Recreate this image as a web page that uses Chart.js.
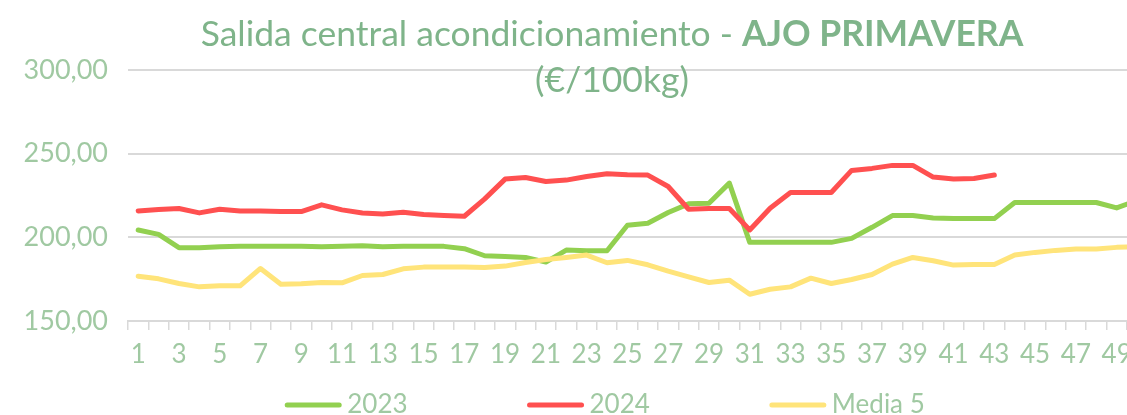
<!DOCTYPE html>
<html lang="es">
<head>
<meta charset="utf-8">
<title>Salida central acondicionamiento - AJO PRIMAVERA</title>
<script src="https://cdn.jsdelivr.net/npm/chart.js@4.4.1/dist/chart.umd.min.js"></script>
<style>
  html, body { margin: 0; padding: 0; background: #ffffff; overflow: hidden; width: 1127px; height: 415px; }
  #marco { position: relative; width: 1224px; height: 440px; }
  canvas { display: block; }
</style>
</head>
<body>
<div id="marco"><canvas id="grafico" width="1224" height="440"></canvas></div>
<script>
// Semanas del año
const semanas = ['1','2','3','4','5','6','7','8','9','10','11','12','13','14','15','16','17','18','19','20',
  '21','22','23','24','25','26','27','28','29','30','31','32','33','34','35','36','37','38','39','40',
  '41','42','43','44','45','46','47','48','49','50','51','52'];

// Precios semanales (€/100kg)
const precios2023 = [204.4, 201.8, 193.8, 193.8, 194.4, 194.6, 194.6, 194.6, 194.6, 194.4,
  194.6, 195.0, 194.4, 194.6, 194.6, 194.6, 193.2, 189.0, 188.6, 188.0,
  185.2, 192.4, 192.0, 192.0, 207.2, 208.4, 214.8, 220.0, 220.4, 232.4,
  197.0, 197.0, 197.0, 197.0, 197.0, 199.4, 206.0, 213.0, 213.0, 211.6,
  211.2, 211.2, 211.2, 220.8, 220.8, 220.8, 220.8, 220.8, 217.6, 222.0,
  null, null];

const precios2024 = [215.8, 216.6, 217.2, 214.6, 216.8, 215.8, 215.8, 215.4, 215.4, 219.4,
  216.4, 214.6, 214.0, 215.0, 213.6, 213.0, 212.6, 223.0, 234.8, 235.8,
  233.4, 234.2, 236.4, 238.0, 237.4, 237.2, 230.4, 216.8, 217.2, 217.2,
  204.4, 217.4, 226.8, 226.8, 226.8, 240.0, 241.2, 243.0, 243.0, 236.0,
  234.8, 235.2, 237.2];

const media5 = [176.8, 175.2, 172.4, 170.4, 171.0, 171.0, 181.4, 172.0, 172.2, 173.0,
  172.8, 177.2, 177.8, 181.2, 182.2, 182.2, 182.2, 182.0, 182.8, 185.0,
  186.8, 188.0, 189.4, 184.8, 186.2, 183.6, 179.8, 176.4, 173.0, 174.4,
  166.0, 169.0, 170.4, 175.6, 172.4, 174.8, 177.8, 184.0, 188.0, 186.0,
  183.4, 183.8, 183.8, 189.4, 191.0, 192.2, 193.0, 193.0, 194.0, 194.4,
  null, null];

// Escala de precios
const ejeMin = 150, ejeMax = 300, ejePaso = 50;

const tituloNormal = 'Salida central acondicionamiento - ';
const tituloNegrita = 'AJO PRIMAVERA';
const subtitulo = '(€/100kg)';

const FUENTE = 'Lato';
const COLOR_TITULO = '#7fb48a';
const COLOR_TEXTO = '#a0c9a2';
const COLOR_REJILLA = '#d9d9d9';

// Título con parte en negrita
const tituloPlugin = {
  id: 'tituloMixto',
  afterDraw(chart) {
    const ctx = chart.ctx;
    ctx.save();
    ctx.fillStyle = COLOR_TITULO;
    ctx.textBaseline = 'alphabetic';
    ctx.textAlign = 'left';
    const normal = `35.5px ${FUENTE}`;
    const negrita = `bold 35.5px ${FUENTE}`;
    ctx.font = normal;
    const w1 = ctx.measureText(tituloNormal).width;
    ctx.font = negrita;
    const w2 = ctx.measureText(tituloNegrita).width;
    const cx = chart.width / 2;
    const x0 = cx - (w1 + w2) / 2;
    ctx.font = normal;
    ctx.fillText(tituloNormal, x0, 46);
    ctx.font = negrita;
    ctx.fillText(tituloNegrita, x0 + w1, 46);
    ctx.font = normal;
    ctx.textAlign = 'center';
    ctx.fillText(subtitulo, cx, 92);
    ctx.restore();
  }
};

// Leyenda inferior con muestras de línea
const leyendaPlugin = {
  id: 'leyendaLineas',
  afterDraw(chart) {
    const ctx = chart.ctx;
    const muestra = 56, sep = 6, hueco = 120, y = 405;
    ctx.save();
    ctx.font = `26px ${FUENTE}`;
    const items = chart.data.datasets.map(ds => ({
      texto: ds.label, color: ds.borderColor, ancho: muestra + sep + ctx.measureText(ds.label).width
    }));
    const total = items.reduce((s, it) => s + it.ancho, 0) + hueco * (items.length - 1);
    let x = chart.width / 2 - 7 - total / 2;
    items.forEach(it => {
      ctx.strokeStyle = it.color;
      ctx.lineWidth = 5;
      ctx.lineCap = 'round';
      ctx.beginPath();
      ctx.moveTo(x + 2, y);
      ctx.lineTo(x + muestra - 2, y);
      ctx.stroke();
      ctx.fillStyle = COLOR_TEXTO;
      ctx.textAlign = 'left';
      ctx.textBaseline = 'middle';
      ctx.fillText(it.texto, x + muestra + sep, y);
      x += it.ancho + hueco;
    });
    ctx.restore();
  }
};

const serie = (label, data, color, order) => ({
  label, data, borderColor: color, backgroundColor: color,
  borderWidth: 5, pointRadius: 0, pointHoverRadius: 0, tension: 0,
  borderCapStyle: 'round', borderJoinStyle: 'round', spanGaps: false, order
});

new Chart(document.getElementById('grafico'), {
  type: 'line',
  data: {
    labels: semanas,
    datasets: [
      serie('2023', precios2023, '#92d050', 2),
      serie('2024', precios2024, '#ff5050', 1),
      serie('Media 5', media5, '#ffe47a', 0)
    ]
  },
  options: {
    responsive: false,
    animation: false,
    events: [],
    layout: { padding: { left: 0, top: 70, right: 36, bottom: 74 } },
    plugins: {
      legend: { display: false },
      title: { display: false },
      tooltip: { enabled: false }
    },
    scales: {
      x: {
        type: 'category',
        offset: true,
        grid: { offset: true, drawOnChartArea: false, drawTicks: true, tickLength: 9, color: COLOR_REJILLA, lineWidth: 1.5 },
        border: { display: true, color: COLOR_REJILLA, width: 2 },
        ticks: {
          autoSkip: false, maxRotation: 0, minRotation: 0, padding: 9,
          color: COLOR_TEXTO, font: { family: FUENTE, size: 26 },
          callback: (v, i) => (i % 2 === 0 ? semanas[i] : '')
        },
        afterFit: s => { s.height = 45; }
      },
      y: {
        min: ejeMin, max: ejeMax,
        grid: { drawTicks: false, color: COLOR_REJILLA, lineWidth: 2 },
        border: { display: false },
        ticks: {
          stepSize: ejePaso, padding: 20, color: COLOR_TEXTO,
          font: { family: FUENTE, size: 27 },
          callback: v => v.toFixed(2).replace('.', ',')
        },
        afterFit: s => { s.width = 128; }
      }
    }
  },
  plugins: [tituloPlugin, leyendaPlugin]
});
</script>
</body>
</html>
